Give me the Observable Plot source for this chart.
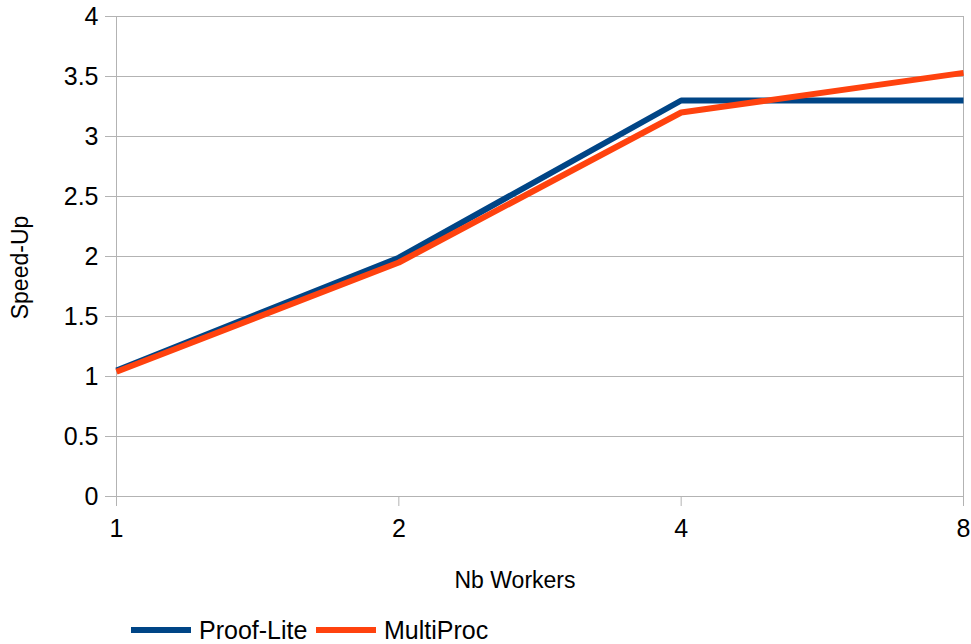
<!DOCTYPE html>
<html>
<head>
<meta charset="utf-8">
<script src="https://cdn.jsdelivr.net/npm/d3@7"></script>
<script src="https://cdn.jsdelivr.net/npm/@observablehq/plot@0.6"></script>
<style>
  body { margin: 0; background: #fff; font-family: "Liberation Sans", Arial, sans-serif; }
  #wrap { position: relative; width: 971px; height: 644px; }
  #legend { position: absolute; left: 0; top: 614px; height: 32px; width: 971px; font-size: 25px; color: #000; }
  .item { display: flex; align-items: center; white-space: nowrap; height: 32px; }
  .sw { width: 60px; height: 6px; margin-right: 8px; flex: none; }
</style>
</head>
<body>
<div id="wrap">
  <div id="chart"></div>
  <div id="legend"></div>
</div>
<script>
const workers = [1, 2, 4, 8];
const proofLite = [1.05, 1.99, 3.30, 3.30];
const multiProc = [1.04, 1.95, 3.20, 3.53];
const yTicks = [0, 0.5, 1, 1.5, 2, 2.5, 3, 3.5, 4];
const seriesNames = ["Proof-Lite", "MultiProc"];
const seriesColors = ["#004586", "#ff420e"];

const rows = [];
workers.forEach((w, i) => rows.push({w, v: proofLite[i], s: seriesNames[0]}));
workers.forEach((w, i) => rows.push({w, v: multiProc[i], s: seriesNames[1]}));

const grid = "#b3b3b3";
const chart = Plot.plot({
  width: 971,
  height: 600,
  marginLeft: 116,
  marginRight: 8,
  marginTop: 16,
  marginBottom: 104,
  style: {fontFamily: "Liberation Sans, Arial, sans-serif", fontSize: "25px", color: "#000", background: "#fff"},
  x: {type: "log", base: 2, domain: [1, 8], range: [116, 963]},
  y: {domain: [0, 4]},
  marks: [
    Plot.ruleY(yTicks, {stroke: grid, strokeWidth: 1}),
    Plot.ruleX([workers[0], workers[workers.length - 1]], {stroke: grid, strokeWidth: 1}),
    Plot.axisY({ticks: yTicks, tickFormat: d => String(d), tickSize: 11, tickPadding: 7, stroke: grid, fill: "#000", label: null, fontSize: 25}),
    Plot.axisX({ticks: workers, tickFormat: d => String(d), tickSize: 10, tickPadding: 13, stroke: grid, fill: "#000", label: null, fontSize: 25}),
    Plot.line(rows.filter(d => d.s === seriesNames[0]), {x: "w", y: "v", stroke: seriesColors[0], strokeWidth: 6, strokeLinecap: "butt", strokeLinejoin: "miter"}),
    Plot.line(rows.filter(d => d.s === seriesNames[1]), {x: "w", y: "v", stroke: seriesColors[1], strokeWidth: 6, strokeLinecap: "butt", strokeLinejoin: "miter"}),
    Plot.text(["Nb Workers"], {frameAnchor: "bottom", textAnchor: "middle", lineAnchor: "middle", dy: 84, dx: -25, fontSize: 23, fill: "#000"}),
    Plot.text(["Speed-Up"], {frameAnchor: "left", textAnchor: "middle", lineAnchor: "middle", dx: -96, dy: 11, rotate: -90, fontSize: 23, fill: "#000"})
  ]
});
document.getElementById("chart").appendChild(chart);

const legend = document.getElementById("legend");
const offsets = [131, 316];
seriesNames.forEach((name, i) => {
  const it = document.createElement("div");
  it.className = "item";
  it.style.position = "absolute";
  it.style.left = offsets[i] + "px";
  it.style.top = "0px";
  const sw = document.createElement("div");
  sw.className = "sw";
  sw.style.background = seriesColors[i];
  const t = document.createElement("span");
  t.textContent = name;
  it.appendChild(sw);
  it.appendChild(t);
  legend.appendChild(it);
});
</script>
</body>
</html>
